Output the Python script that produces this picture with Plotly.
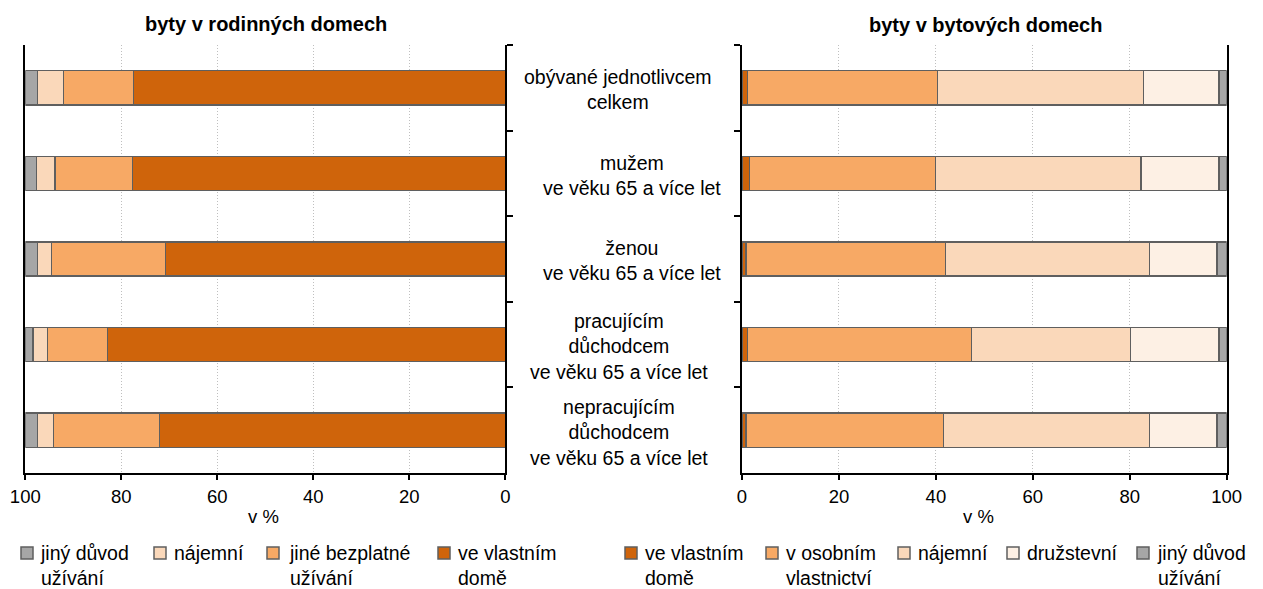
import plotly.graph_objects as go

# ---------------- data ----------------
categories = [
    "obývané jednotlivcem<br>celkem",
    "mužem<br>ve věku 65 a více let",
    "ženou<br>ve věku 65 a více let",
    "pracujícím<br>důchodcem<br>ve věku 65 a více let",
    "nepracujícím<br>důchodcem<br>ve věku 65 a více let",
]

# byty v rodinných domech (%)
rd_vlastni = [77.5, 77.6, 70.8, 82.9, 72.1]
rd_bezplatne = [14.6, 16.2, 23.8, 12.5, 22.0]
rd_najemni = [5.4, 3.8, 2.9, 3.0, 3.4]
rd_jiny = [2.5, 2.4, 2.5, 1.6, 2.5]

# byty v bytových domech (%)
bd_vlastni = [1.1, 1.6, 0.8, 1.2, 0.8]
bd_osobni = [39.2, 38.3, 41.2, 46.1, 40.8]
bd_najemni = [42.5, 42.4, 42.1, 32.9, 42.5]
bd_druzstevni = [15.6, 16.1, 13.9, 18.2, 13.9]
bd_jiny = [1.6, 1.6, 2.0, 1.6, 2.0]

x_ticks = [0, 20, 40, 60, 80, 100]

left_title = "byty v rodinných domech"
right_title = "byty v bytových domech"
axis_label = "v %"

# ---------------- styles ----------------
C_VLASTNI = "#CF640B"
C_BEZPL = "#F7A965"
C_NAJEM = "#FAD8BA"
C_DRUZ = "#FDF0E4"
C_JINY = "#A6A6A6"
EDGE = "#5F5F5F"
FONT = "Liberation Sans, Arial, sans-serif"

W, H = 1263, 589


def px(x):
    return x / W


def py(y):
    return 1 - y / H


left_series = [
    ("ve vlastním<br>domě", rd_vlastni, C_VLASTNI),
    ("jiné bezplatné<br>užívání", rd_bezplatne, C_BEZPL),
    ("nájemní", rd_najemni, C_NAJEM),
    ("jiný důvod<br>užívání", rd_jiny, C_JINY),
]
right_series = [
    ("ve vlastním<br>domě", bd_vlastni, C_VLASTNI),
    ("v osobním<br>vlastnictví", bd_osobni, C_BEZPL),
    ("nájemní", bd_najemni, C_NAJEM),
    ("družstevní", bd_druzstevni, C_DRUZ),
    ("jiný důvod<br>užívání", bd_jiny, C_JINY),
]

fig = go.Figure()
for name, vals, col in left_series:
    fig.add_trace(go.Bar(y=categories, x=vals, orientation="h", name=name,
                         marker=dict(color=col, line=dict(color=EDGE, width=1.3)),
                         xaxis="x", yaxis="y", showlegend=False))
for name, vals, col in right_series:
    fig.add_trace(go.Bar(y=categories, x=vals, orientation="h", name=name,
                         marker=dict(color=col, line=dict(color=EDGE, width=1.3)),
                         xaxis="x2", yaxis="y2", showlegend=False))

ydom = [py(473), py(45)]
common_x = dict(tickvals=x_ticks, ticks="outside", ticklen=5, tickwidth=2, tickcolor="black",
                showline=True, linecolor="black", linewidth=2, showgrid=True,
                gridcolor="#BFBFBF", griddash="1px,2px", gridwidth=1, zeroline=False,
                tickfont=dict(size=18.5, color="black", family=FONT), ticklabelstandoff=1,
                fixedrange=True, automargin=False)
common_y = dict(type="category", autorange="reversed", showline=True, linecolor="black",
                linewidth=1.5, mirror=True, ticks="outside", tickson="boundaries", ticklen=6,
                tickwidth=1.5, tickcolor="black", showticklabels=False, showgrid=False,
                domain=ydom, fixedrange=True, automargin=False)

fig.update_layout(
    width=W, height=H, autosize=False,
    margin=dict(l=0, r=0, t=0, b=0, pad=0, autoexpand=False),
    showlegend=False,
    paper_bgcolor="white", plot_bgcolor="white",
    barmode="stack", bargap=0.6,
    font=dict(family=FONT, color="black", size=18),
    xaxis=dict(domain=[px(25.3), px(505.3)], range=[100, 0], anchor="y", **common_x),
    yaxis=dict(anchor="x", side="right", **common_y),
    xaxis2=dict(domain=[px(742), px(1226.7)], range=[0, 100], anchor="y2", **common_x),
    yaxis2=dict(anchor="x2", side="left", **common_y),
)

annotations = []
# titles
annotations.append(dict(text="<b>" + left_title + "</b>", x=px(266), y=py(24), xref="paper", yref="paper",
                        showarrow=False, xanchor="center", yanchor="middle", font=dict(size=20)))
annotations.append(dict(text="<b>" + right_title + "</b>", x=px(985), y=py(25), xref="paper", yref="paper",
                        showarrow=False, xanchor="center", yanchor="middle", font=dict(size=20)))
# axis labels
annotations.append(dict(text=axis_label, x=px(263), y=py(516), xref="paper", yref="paper",
                        showarrow=False, xanchor="center", yanchor="middle", font=dict(size=18.5)))
annotations.append(dict(text=axis_label, x=px(978), y=py(516), xref="paper", yref="paper",
                        showarrow=False, xanchor="center", yanchor="middle", font=dict(size=18.5)))
# category labels between the panels
label_x = [618, 632, 632, 619, 619]
for cat, lx in zip(categories, label_x):
    annotations.append(dict(text=cat, x=px(lx), y=cat, xref="paper", yref="y", yshift=-2,
                            showarrow=False, xanchor="center", yanchor="middle", align="center",
                            font=dict(size=19.5)))

# legends (built manually)
shapes = []
left_legend = [("jiný důvod<br>užívání", C_JINY, 21, 38),
               ("nájemní", C_NAJEM, 154, 172),
               ("jiné bezplatné<br>užívání", C_BEZPL, 267, 287),
               ("ve vlastním<br>domě", C_VLASTNI, 438, 456)]
right_legend = [("ve vlastním<br>domě", C_VLASTNI, 625, 643),
                ("v osobním<br>vlastnictví", C_BEZPL, 766, 784),
                ("nájemní", C_NAJEM, 898, 916),
                ("družstevní", C_DRUZ, 1007, 1025),
                ("jiný důvod<br>užívání", C_JINY, 1137, 1155)]
sq = 12
ly1 = 553
for name, col, sx, tx in left_legend + right_legend:
    shapes.append(dict(type="rect", xref="paper", yref="paper",
                       x0=px(sx), x1=px(sx + sq), y0=py(ly1 + sq / 2), y1=py(ly1 - sq / 2),
                       fillcolor=col, line=dict(color=EDGE, width=1.5)))
    two = "<br>" in name
    cy = ly1 + 12.5 if two else ly1
    annotations.append(dict(text=name, x=px(tx), y=py(cy), xref="paper", yref="paper",
                            showarrow=False, xanchor="left", yanchor="middle", align="left",
                            font=dict(size=19.5)))

fig.update_layout(annotations=annotations, shapes=shapes)

fig.write_html("out.html", post_script="document.body.style.margin='0px';",
               config={"displayModeBar": False})
